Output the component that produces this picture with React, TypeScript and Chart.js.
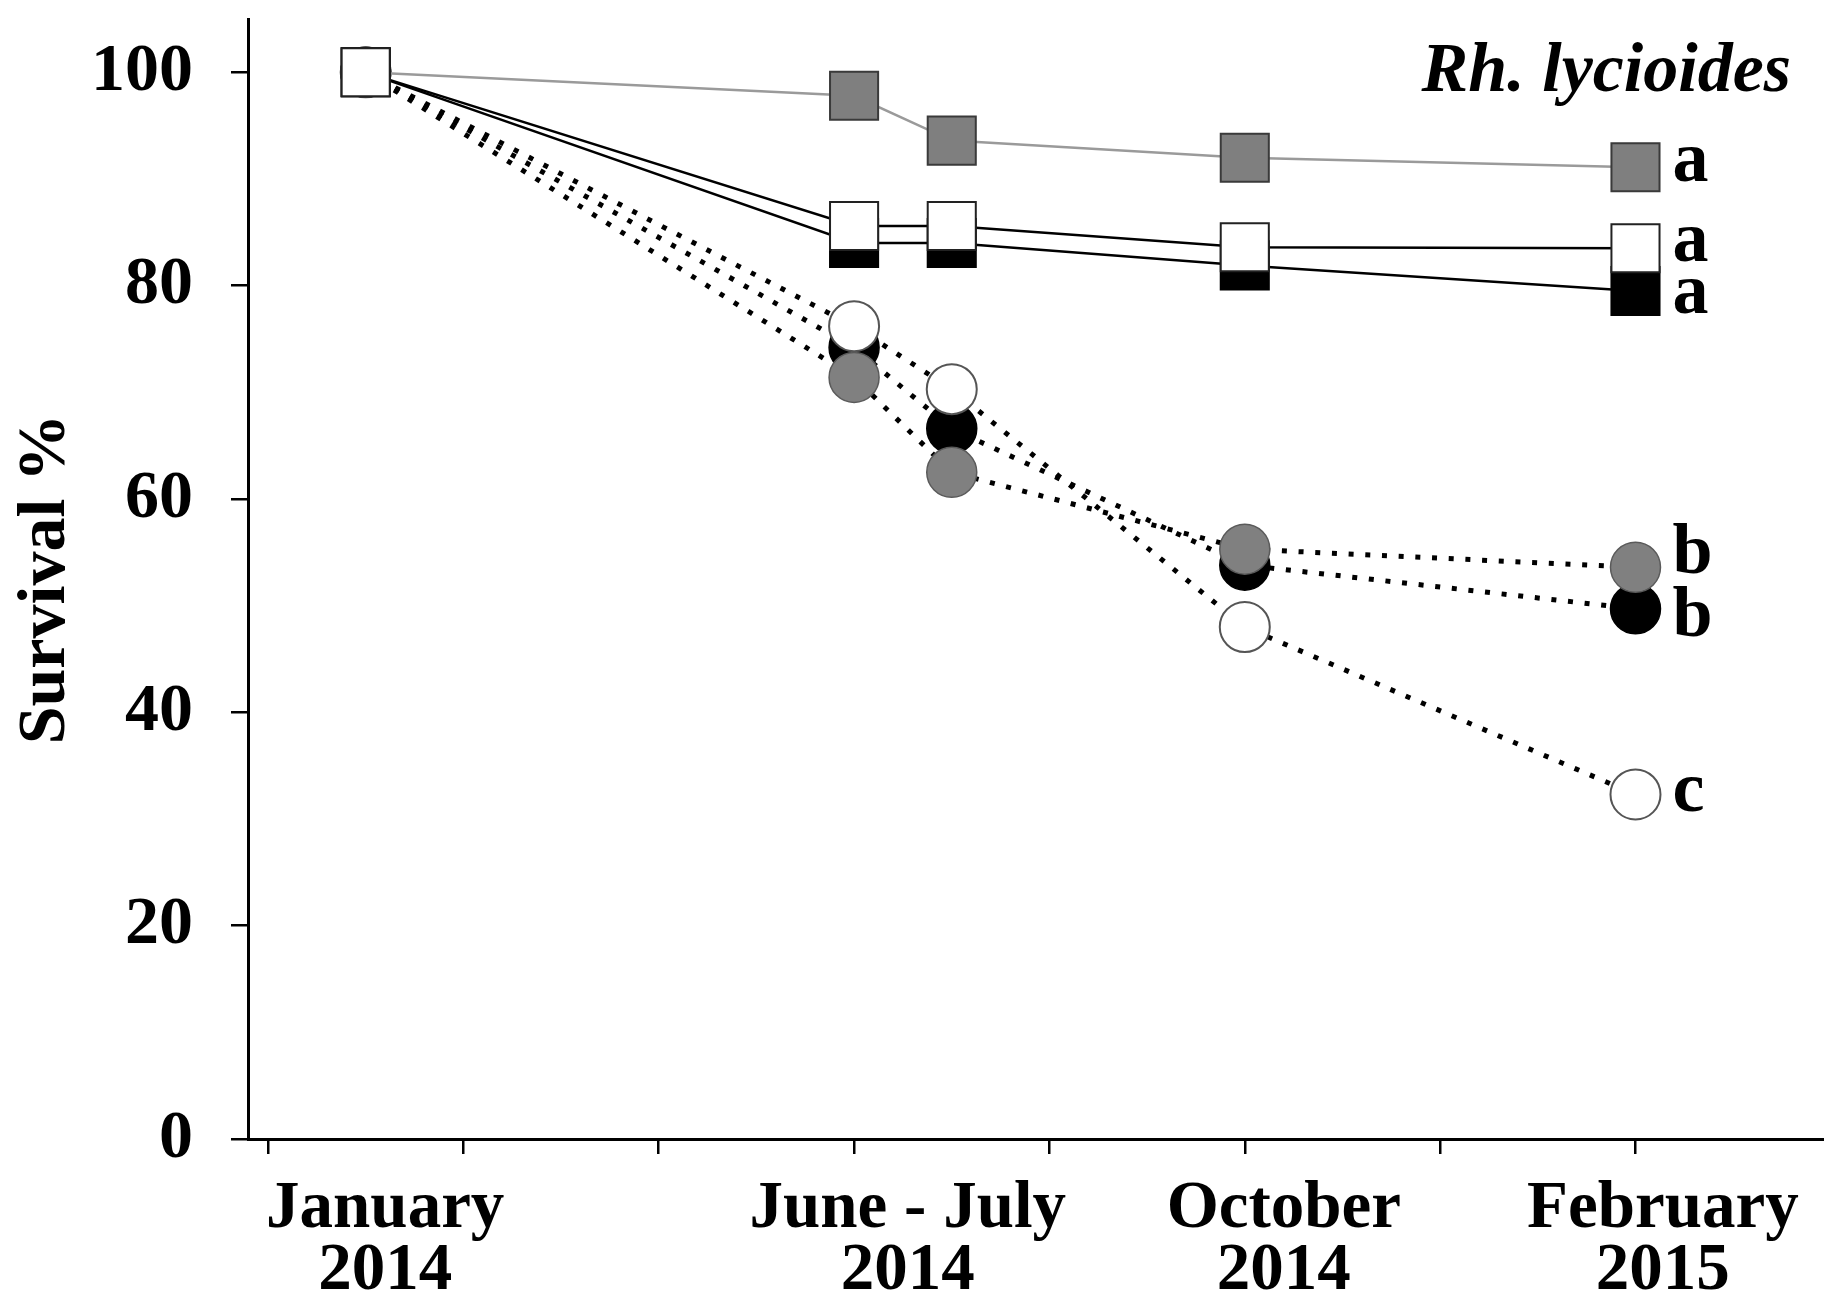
import React, { useEffect, useRef } from "react";
import { Chart, registerables } from "chart.js";

Chart.register(...registerables);

// ---- data ----
const months = [1, 6, 7, 10, 14]; // Jan 2014, Jun 2014, Jul 2014, Oct 2014, Feb 2015 (months since Dec 2013)
const whiteSquares = [100, 85.6, 85.6, 83.6, 83.5];
const blackSquares = [100, 84.0, 84.0, 81.9, 79.5];
const greySquares = [100, 97.8, 93.6, 92.0, 91.1];
const whiteCircles = [100, 76.2, 70.3, 48.0, 32.3];
const greyCircles = [100, 71.4, 62.5, 55.3, 53.6];
const blackCircles = [100, 74.2, 66.6, 53.8, 49.7];

const seriesNames = ["white squares", "black squares", "grey squares", "white circles", "grey circles", "black circles"];
const seriesLetters = ["a", "a", "a", "c", "b", "b"];
const letterShift = [13, 22, 14, 17, 6, 27];

const xTickMonths = [0, 2, 4, 6, 8, 10, 12, 14];
const xCategoryLabels = [
  ["January", "2014"],
  ["June - July", "2014"],
  ["October", "2014"],
  ["February", "2015"],
];
const xCategoryAt = [1.2, 6.55, 10.4, 14.28];
const yTicks = [0, 20, 40, 60, 80, 100];
const yTitle = "Survival %";
const speciesLabel = "Rh. lycioides";

const FONT = "'Liberation Serif', 'Times New Roman', serif";

const toPts = (vals: number[]) => vals.map((v, i) => ({ x: months[i], y: v }));

const zeroPad = (s: any) => {
  s.paddingTop = 0;
  s.paddingBottom = 0;
  s.paddingLeft = 0;
  s.paddingRight = 0;
};

export default function App() {
  const ref = useRef<HTMLCanvasElement | null>(null);

  useEffect(() => {
    if (!ref.current) return;
    const seriesValues = [whiteSquares, blackSquares, greySquares, whiteCircles, greyCircles, blackCircles];

    const squareBase = { pointStyle: "rect", pointRadius: 34, pointBorderWidth: 2, fill: false, tension: 0 };
    const circleBase = {
      pointStyle: "circle",
      pointRadius: 25,
      fill: false,
      tension: 0,
      borderColor: "#000",
      borderWidth: 5,
      borderDash: [5, 11.7],
      borderCapStyle: "butt",
    };

    const datasets: any[] = [
      { ...squareBase, label: seriesNames[0], data: toPts(whiteSquares), borderColor: "#000", borderWidth: 2.5, pointBackgroundColor: "#fff", pointBorderColor: "#222", backgroundColor: "#fff" },
      { ...squareBase, label: seriesNames[1], data: toPts(blackSquares), borderColor: "#000", borderWidth: 2.5, pointBackgroundColor: "#000", pointBorderColor: "#000", backgroundColor: "#000" },
      { ...squareBase, label: seriesNames[2], data: toPts(greySquares), borderColor: "#9a9a9a", borderWidth: 2.5, pointBackgroundColor: "#7f7f7f", pointBorderColor: "#3a3a3a", backgroundColor: "#7f7f7f" },
      { ...circleBase, label: seriesNames[3], data: toPts(whiteCircles), pointBackgroundColor: "#fff", pointBorderColor: "#555", pointBorderWidth: 2, backgroundColor: "#fff" },
      { ...circleBase, label: seriesNames[4], data: toPts(greyCircles), pointBackgroundColor: "#808080", pointBorderColor: "#5a5a5a", pointBorderWidth: 1.5, backgroundColor: "#808080" },
      { ...circleBase, label: seriesNames[5], data: toPts(blackCircles), pointBackgroundColor: "#000", pointBorderColor: "#000", pointBorderWidth: 1.5, backgroundColor: "#000" },
    ];

    const annotate = {
      id: "annotate",
      afterDatasetsDraw(chart: any) {
        const { ctx, chartArea } = chart;
        const xs = chart.scales.x;
        const ys = chart.scales.y;
        ctx.save();
        ctx.fillStyle = "#000";
        ctx.textBaseline = "alphabetic";
        ctx.textAlign = "right";
        ctx.font = `italic bold 70px ${FONT}`;
        ctx.fillText(speciesLabel, chartArea.right - 33, chartArea.top + 72);
        ctx.textAlign = "left";
        ctx.font = `bold 72px ${FONT}`;
        seriesValues.forEach((vals, i) => {
          const li = vals.length - 1;
          ctx.fillText(seriesLetters[i], xs.getPixelForValue(months[li]) + 37, ys.getPixelForValue(vals[li]) + letterShift[i]);
        });
        ctx.restore();
      },
    };

    const chart = new Chart(ref.current, {
      type: "line",
      data: { datasets },
      options: {
        animation: false,
        responsive: false,
        devicePixelRatio: 1,
        events: [],
        layout: { autoPadding: false, padding: { top: 19, right: 0, bottom: 0, left: 0 } },
        plugins: { legend: { display: false }, tooltip: { enabled: false }, title: { display: false } },
        scales: {
          x: {
            type: "linear",
            position: "bottom",
            weight: 0,
            min: -0.205,
            max: 15.93,
            afterBuildTicks: (s: any) => {
              s.ticks = xTickMonths.map((v) => ({ value: v }));
            },
            afterFit: (s: any) => {
              s.height = 15;
              zeroPad(s);
            },
            grid: { display: true, drawOnChartArea: false, drawTicks: true, tickLength: 15, color: "#000", lineWidth: 2.5 },
            border: { display: true, color: "#000", width: 3 },
            ticks: { display: false },
          },
          xl: {
            type: "linear",
            position: "bottom",
            weight: 1,
            min: -0.205,
            max: 15.93,
            afterBuildTicks: (s: any) => {
              s.ticks = xCategoryAt.map((v) => ({ value: v }));
            },
            afterFit: (s: any) => {
              s.height = 146;
              zeroPad(s);
            },
            grid: { display: false, drawTicks: false },
            border: { display: false },
            ticks: {
              autoSkip: false,
              maxRotation: 0,
              minRotation: 0,
              padding: 25,
              color: "#000",
              font: { family: FONT, weight: "bold", size: 67, lineHeight: 62 / 67 },
              callback: (_v: any, i: number) => xCategoryLabels[i],
            },
          },
          y: {
            type: "linear",
            position: "left",
            min: 0,
            max: 105,
            afterBuildTicks: (s: any) => {
              s.ticks = yTicks.map((v) => ({ value: v }));
            },
            afterFit: (s: any) => {
              s.width = 248;
              zeroPad(s);
            },
            grid: { display: true, drawOnChartArea: false, drawTicks: true, tickLength: 17, color: "#000", lineWidth: 2.5 },
            border: { display: true, color: "#000", width: 3 },
            ticks: { padding: 38, color: "#000", font: { family: FONT, weight: "bold", size: 68 } },
            title: {
              display: true,
              text: yTitle,
              color: "#000",
              font: { family: FONT, weight: "bold", size: 68, lineHeight: 1 },
              padding: { top: 12, bottom: 0 },
            },
          },
        },
      } as any,
      plugins: [annotate],
    });
    return () => chart.destroy();
  }, []);

  return (
    <div style={{ position: "absolute", left: 0, top: 0, width: 1824, height: 1300, background: "#fff" }}>
      <canvas ref={ref} width={1824} height={1300} style={{ width: 1824, height: 1300, display: "block" }} />
    </div>
  );
}
